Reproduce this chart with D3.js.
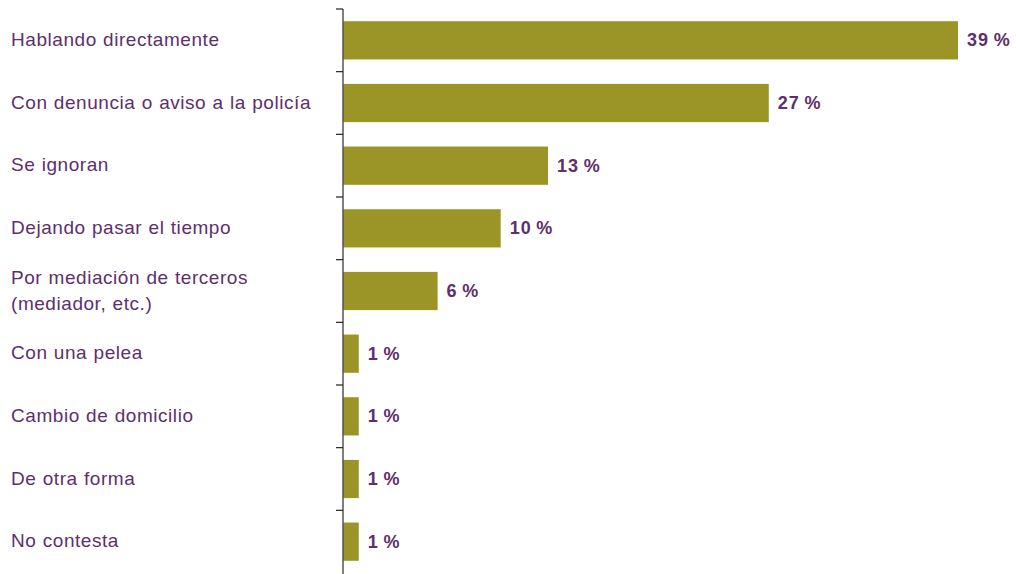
<!DOCTYPE html>
<html><head><meta charset="utf-8">
<script src="https://cdn.jsdelivr.net/npm/d3@7"></script>
<style>body{margin:0;background:#fff}</style>
</head><body>
<svg id="c" width="1016" height="574"></svg>
<script>
const categories = ["Hablando directamente","Con denuncia o aviso a la policía","Se ignoran","Dejando pasar el tiempo","Por mediación de terceros|(mediador, etc.)","Con una pelea","Cambio de domicilio","De otra forma","No contesta"];
const values = [39,27,13,10,6,1,1,1,1];
const valueLabels = ["39\u2009%","27\u2009%","13\u2009%","10\u2009%","6\u2009%","1\u2009%","1\u2009%","1\u2009%","1\u2009%"];

const svg = d3.select("#c");
const x0 = 343;
const x = d3.scaleLinear().domain([0,39]).range([x0, 958]);
const y = d3.scaleBand().domain(categories).range([9, 573]).paddingInner(0.39).paddingOuter(0.195);
const purple = "#5e2f6c";
const font = "'Liberation Sans', Arial, sans-serif";

svg.selectAll("rect.bar").data(categories).enter().append("rect")
  .attr("x", x(0)).attr("y", d=>y(d))
  .attr("width", (d,i)=>x(values[i])-x(0)).attr("height", y.bandwidth())
  .attr("fill", "#9a9526");

// axis with ticks at band boundaries
const step = y.step();
const ticks = d3.range(categories.length).map(i=>9+i*step);
svg.append("line").attr("x1",x0).attr("x2",x0).attr("y1",9).attr("y2",574).attr("stroke","#555").attr("stroke-width",1.5);
svg.selectAll("line.tick").data(ticks).enter().append("line")
  .attr("x1",x0-7).attr("x2",x0).attr("y1",d=>d).attr("y2",d=>d).attr("stroke","#222").attr("stroke-width",1.2);

// category labels
categories.forEach((c,i)=>{
  const lines = c.split("|");
  const cy = y(c)+y.bandwidth()/2;
  const lh = 26;
  lines.forEach((l,j)=>{
    svg.append("text").attr("x",11).attr("y", cy + (j-(lines.length-1)/2)*lh)
      .attr("dy","0.3em").attr("fill",purple).attr("font-family",font).attr("font-size","19px")
      .attr("letter-spacing","0.55px").attr("word-spacing","0.5px").text(l);
  });
});

// value labels
svg.selectAll("text.val").data(categories).enter().append("text")
  .attr("x",(d,i)=>x(values[i])+9).attr("y",d=>y(d)+y.bandwidth()/2).attr("dy","0.33em")
  .attr("fill",purple).attr("font-family",font).attr("font-size","18px").attr("font-weight","bold")
  .attr("letter-spacing","1px")
  .text((d,i)=>valueLabels[i]);
</script>
</body></html>
